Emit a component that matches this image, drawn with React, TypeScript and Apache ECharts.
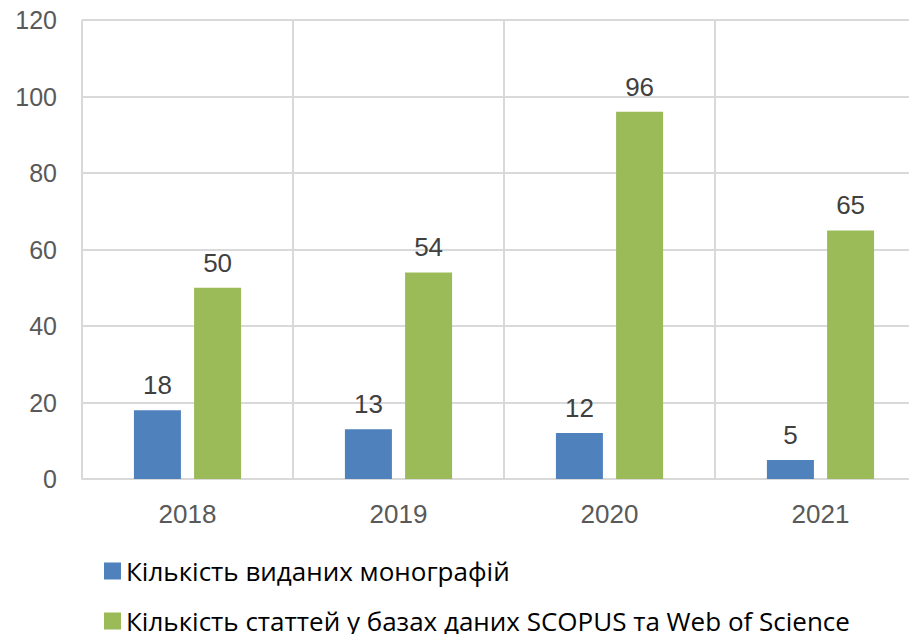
import React, { useEffect, useRef } from "react";
import * as echarts from "echarts";

const categories = ["2018", "2019", "2020", "2021"];
const monographs = [18, 13, 12, 5];
const articles = [50, 54, 96, 65];
const seriesNames = [
  "Кількість виданих монографій",
  "Кількість статтей у базах даних SCOPUS та Web of Science",
];

export default function App() {
  const ref = useRef<HTMLDivElement>(null);
  useEffect(() => {
    const chart = echarts.init(ref.current!, null, { renderer: "svg" });
    const labelStyle = {
      show: true,
      position: "top" as const,
      distance: 12,
      color: "#404040",
      fontSize: 26,
      fontFamily: "Liberation Sans",
    };
    chart.setOption({
      animation: false,
      grid: {
        left: 82,
        top: 20,
        width: 844,
        bottom: 163,
        containLabel: false,
        outerBoundsMode: "none",
      },
      legend: {
        orient: "vertical",
        left: 99,
        top: 552,
        height: 200,
        itemWidth: 17,
        itemHeight: 17,
        itemGap: 22,
        icon: "rect",
        textStyle: { fontSize: 26, lineHeight: 28, fontFamily: "Open Sans", color: "#000" },
        data: seriesNames,
      },
      xAxis: {
        type: "category",
        data: categories,
        axisLine: { lineStyle: { color: "#D9D9D9", width: 2 } },
        axisTick: { show: false },
        splitLine: { show: true, lineStyle: { color: "#D9D9D9", width: 2 } },
        axisLabel: { color: "#595959", fontSize: 26, fontFamily: "Liberation Sans", margin: 22 },
      },
      yAxis: {
        type: "value",
        min: 0,
        max: 120,
        interval: 20,
        axisLine: { show: false },
        axisTick: { show: false },
        splitLine: { lineStyle: { color: "#D9D9D9", width: 2 } },
        axisLabel: { color: "#595959", fontSize: 25, fontFamily: "Liberation Sans", margin: 25 },
      },
      series: [
        {
          name: seriesNames[0],
          type: "bar",
          data: monographs,
          barWidth: 47,
          barGap: "28%",
          itemStyle: { color: "#4F81BD" },
          label: labelStyle,
        },
        {
          name: seriesNames[1],
          type: "bar",
          data: articles,
          barWidth: 47,
          barGap: "28%",
          itemStyle: { color: "#9BBB59" },
          label: labelStyle,
        },
      ],
    });
    return () => chart.dispose();
  }, []);
  return <div ref={ref} style={{ width: 917, height: 642, margin: -8 }} />;
}
